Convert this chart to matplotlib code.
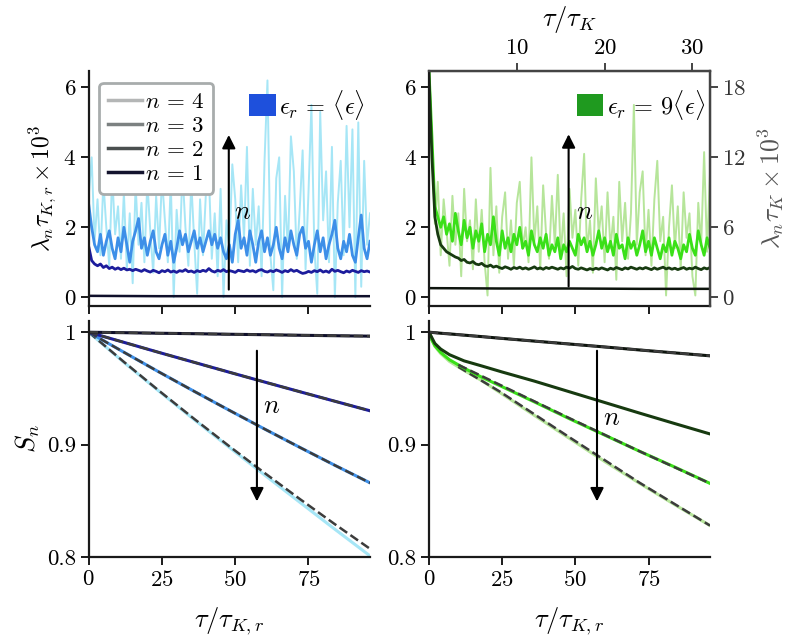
import matplotlib
matplotlib.use("Agg")
import matplotlib.pyplot as plt
from matplotlib.lines import Line2D
from matplotlib.patches import Patch

plt.rcParams['font.family'] = 'serif'
plt.rcParams['font.serif'] = ['cmr10', 'DejaVu Serif']
plt.rcParams['mathtext.fontset'] = 'cm'
plt.rcParams['axes.formatter.use_mathtext'] = True
plt.rcParams['axes.unicode_minus'] = False
plt.rcParams['font.size'] = 16.5

# ---- data: growth rates lambda_n * tau * 1e3 vs tau/tau_K,r (x = 0..96) ----
tau = list(range(97))

lam4_mean = [2.9, 4.0, 1.6, 2.8, 1.2, 3.3, 2.0, 0.9, 3.5, 1.8, 2.6, 1.1, 3.0, 0.8, 2.4, 0.4,
             3.2, 1.5, 2.7, 1.0, 3.3, 1.9, 0.7, 2.9, 1.4, 3.4, 2.2, 1.0, 3.3, 0.0, 2.5, 1.3,
             3.6, 2.0, 0.9, 3.3, 1.6, 0.1, 2.8, 1.2, 3.0, 3.5, 1.1, 2.4, 0.6, 3.1, 0.0, 2.2,
             1.4, 3.8, 2.8, 1.0, 3.2, 1.7, 4.3, 0.9, 3.1, 1.5, 2.6, 0.6, 3.9, 6.2, 1.2, 0.2,
             3.4, 4.0, 0.0, 2.9, 1.3, 4.6, 3.6, 1.1, 2.5, 4.2, 0.8, 3.0, 5.5, 1.4, 0.1, 5.3,
             2.2, 3.6, 1.0, 4.3, 0.0, 2.7, 3.9, 1.2, 4.9, 2.0, 4.8, 0.0, 5.0, 0.3, 3.9, 1.5, 2.4]
lam3_mean = [2.65, 2.0, 1.5, 1.3, 1.8, 1.2, 1.6, 1.9, 1.4, 1.1, 1.7, 1.3, 2.0, 1.5, 1.0, 1.6,
             1.9, 2.25, 1.4, 1.7, 1.2, 1.6, 1.9, 1.3, 1.1, 1.5, 1.8, 1.2, 1.6, 1.0, 1.4, 1.9,
             1.5, 1.8, 1.3, 1.6, 1.9, 1.4, 1.7, 1.3, 1.6, 1.9, 1.5, 1.8, 1.4, 1.7, 1.3, 1.1,
             1.5, 1.0, 1.8, 2.2, 1.4, 1.7, 1.2, 1.9, 1.5, 1.0, 1.6, 1.9, 1.3, 1.7, 1.2, 1.5,
             2.0, 1.4, 1.1, 1.7, 1.3, 1.9, 1.5, 1.2, 1.8, 2.0, 1.4, 1.6, 1.0, 1.5, 1.9, 1.3,
             1.7, 1.1, 1.5, 1.8, 2.2, 1.4, 1.1, 1.6, 1.3, 1.8, 1.2, 1.0, 1.7, 2.35, 1.4, 1.1, 1.6]
lam2_mean = [1.45, 1.05, 0.95, 0.9, 0.95, 0.85, 0.9, 0.82, 0.86, 0.8, 0.84, 0.79, 0.83, 0.78,
             0.8, 0.76, 0.8, 0.77, 0.74, 0.79, 0.75, 0.72, 0.77, 0.74, 0.7, 0.76, 0.73, 0.78,
             0.72, 0.75, 0.71, 0.76, 0.74, 0.79, 0.73, 0.75, 0.71, 0.76, 0.73, 0.77, 0.74, 0.82,
             0.75, 0.72, 0.77, 0.74, 0.79, 0.73, 0.76, 0.74, 0.71, 0.77, 0.75, 0.73, 0.78, 0.74,
             0.76, 0.72, 0.77, 0.79, 0.74, 0.72, 0.76, 0.73, 0.78, 0.75, 0.71, 0.76, 0.73, 0.79,
             0.74, 0.77, 0.72, 0.68, 0.7, 0.74, 0.71, 0.76, 0.73, 0.78, 0.72, 0.75, 0.71, 0.8,
             0.74, 0.77, 0.73, 0.7, 0.75, 0.72, 0.77, 0.74, 0.71, 0.76, 0.73, 0.75, 0.72]
tau_flat = [0, 24, 48, 72, 96]
lam1_mean = [0.04, 0.03, 0.03, 0.03, 0.03]

lam4_high = [6.5, 4.2, 2.1, 3.3, 1.2, 2.8, 1.9, 0.9, 2.9, 1.5, 2.4, 0.6, 3.1, 1.6, 2.2, 0.8,
             2.8, 1.3, 2.5, 1.0, 0.05, 3.7, 1.2, 2.6, 0.7, 2.3, 3.0, 1.1, 2.2, 0.9, 2.7, 3.3,
             1.4, 2.0, 1.0, 4.0, 1.6, 2.6, 0.8, 3.2, 1.8, 1.1, 2.9, 1.5, 3.5, 1.2, 2.4, 0.6,
             3.1, 1.7, 2.5, 0.9, 2.8, 4.1, 1.3, 2.2, 0.7, 3.4, 1.8, 2.6, 1.0, 3.0, 1.4, 2.3,
             0.5, 3.3, 1.6, 2.7, 1.1, 2.4, 5.5, 1.5, 3.0, 3.6, 1.2, 2.5, 0.9, 2.8, 3.9, 1.6,
             2.3, 0.05, 2.0, 3.2, 1.4, 2.6, 0.8, 3.0, 1.7, 2.4, 0.6, 0.05, 2.7, 1.5, 4.15, 1.3, 3.5]
lam3_high = [6.5, 4.6, 2.6, 2.3, 2.0, 2.3, 1.8, 2.1, 1.6, 2.4, 1.9, 1.5, 2.2, 1.7, 2.0, 1.4,
             1.9, 1.6, 2.1, 1.3, 1.8, 1.5, 2.3, 1.6, 1.2, 1.9, 1.4, 1.7, 1.3, 1.8, 1.5, 2.0,
             1.4, 1.6, 1.2, 1.9, 1.5, 1.3, 1.7, 1.4, 1.8, 1.2, 1.5, 1.3, 1.7, 1.1, 1.5, 1.3,
             1.6, 1.4, 1.2, 1.8, 1.5, 1.7, 1.3, 1.6, 1.2, 1.5, 1.9, 1.4, 1.7, 1.3, 1.6, 1.2,
             1.8, 1.4, 1.5, 1.1, 1.7, 1.4, 1.6, 1.2, 1.5, 1.9, 1.3, 1.6, 1.2, 1.7, 1.4, 1.1,
             1.5, 1.3, 1.7, 1.2, 1.6, 1.4, 1.1, 1.5, 1.3, 1.8, 1.4, 1.2, 1.9, 1.5, 1.2, 1.7, 1.4]
lam2_high = [6.4, 4.0, 2.3, 1.8, 1.5, 1.4, 1.3, 1.25, 1.2, 1.15, 1.12, 1.05, 1.08, 1.0, 0.98,
             1.02, 0.95, 0.93, 0.97, 0.9, 0.88, 0.92, 0.86, 0.89, 0.85, 0.82, 0.87, 0.84, 0.8,
             0.85, 0.82, 0.86, 0.81, 0.84, 0.8, 0.83, 0.87, 0.81, 0.84, 0.8, 0.85, 0.82, 0.86,
             0.83, 0.8, 0.84, 0.81, 0.86, 0.83, 0.88, 0.82, 0.8, 0.84, 0.81, 0.78, 0.82, 0.79,
             0.83, 0.8, 0.84, 0.81, 0.78, 0.83, 0.8, 0.85, 0.82, 0.79, 0.84, 0.81, 0.86, 0.83,
             0.8, 0.84, 0.81, 0.85, 0.82, 0.79, 0.84, 0.8, 0.83, 0.86, 0.81, 0.84, 0.8, 0.83,
             0.79, 0.82, 0.85, 0.8, 0.83, 0.81, 0.86, 0.82, 0.79, 0.84, 0.81, 0.85]
lam1_high = [0.26, 0.25, 0.25, 0.24, 0.24]

# ---- survival probabilities S_n ----
tau_s_left = [0, 12, 24, 36, 48, 60, 72, 84, 96]
s1_mean = [1.0, 0.9996, 0.9991, 0.9987, 0.9982, 0.9978, 0.9973, 0.9969, 0.9965]
s2_mean = [1.0, 0.9910, 0.9820, 0.9732, 0.9644, 0.9557, 0.9471, 0.9386, 0.9301]
s3_mean = [1.0, 0.9822, 0.9646, 0.9474, 0.9305, 0.9139, 0.8976, 0.8816, 0.8660]
s4_mean = [1.0, 0.9732, 0.9475, 0.9222, 0.8975, 0.8730, 0.8488, 0.8247, 0.8010]
fit4_mean = [1.0, 0.9736, 0.9479, 0.9229, 0.8985, 0.8748, 0.8517, 0.8292, 0.8073]

tau_s_right = [0, 1, 2, 4, 7, 12, 18, 25, 36, 48, 60, 72, 84, 96]
s1_high = [1.0, 0.9998, 0.9996, 0.9991, 0.9985, 0.9974, 0.9961, 0.9945, 0.9921, 0.9895,
           0.9869, 0.9842, 0.9816, 0.9790]
s2_high = [1.0, 0.995, 0.990, 0.985, 0.980, 0.9745, 0.970, 0.9646, 0.9565, 0.947, 0.9375,
           0.928, 0.9187, 0.9095]
s3_high = [1.0, 0.993, 0.988, 0.982, 0.9755, 0.968, 0.960, 0.9515, 0.938, 0.923, 0.9085,
           0.894, 0.880, 0.8655]
s4_high = [1.0, 0.993, 0.9875, 0.981, 0.974, 0.966, 0.957, 0.945, 0.926, 0.9055, 0.885,
           0.8655, 0.8465, 0.828]
tau_fit_right = [10, 24, 48, 72, 96]
fit3_high = [0.971, 0.9535, 0.9235, 0.894, 0.8655]
fit4_high = [0.9692, 0.9475, 0.9065, 0.866, 0.828]
tau_fit1 = [0, 48, 96]
fit1_high = [1.0, 0.9895, 0.979]

blues = ['#0f0f2a', '#1c1c9c', '#3d8fe8', '#a6e6f6']   # n = 1..4
greens = ['#0d140d', '#173a10', '#3ae018', '#b6e59a']
legend_grays = ['#14142e', '#4a4f4f', '#7c8181', '#b4b6b6']
fit_col = '#3c3c3c'
TICK = 16.5

fig = plt.figure(figsize=(7.93, 6.36), dpi=100)
ax_tl = fig.add_axes([0.1119, 0.5189, 0.3547, 0.3695])
ax_tr = fig.add_axes([0.5410, 0.5189, 0.3543, 0.3695])
ax_bl = fig.add_axes([0.1119, 0.1242, 0.3547, 0.3711])
ax_br = fig.add_axes([0.5410, 0.1242, 0.3543, 0.3711])


def style(ax):
    for s in ['left', 'bottom']:
        ax.spines[s].set_linewidth(1.6)
        ax.spines[s].set_color('#1a1a1a')
    ax.spines['top'].set_visible(False)
    ax.spines['right'].set_visible(False)
    ax.tick_params(direction='out', length=6, width=1.4, color='#1a1a1a', labelsize=TICK, pad=3)
    ax.set_xlim(0, 96)
    ax.set_xticks([0, 25, 50, 75])


# top panels
for ax, cols, l4, l3, l2, l1 in [(ax_tl, blues, lam4_mean, lam3_mean, lam2_mean, lam1_mean),
                                 (ax_tr, greens, lam4_high, lam3_high, lam2_high, lam1_high)]:
    style(ax)
    ax.plot(tau, l4, color=cols[3], lw=1.4)
    ax.plot(tau, l3, color=cols[2], lw=2.0)
    ax.plot(tau, l2, color=cols[1], lw=2.0)
    ax.plot(tau_flat, l1, color=cols[0], lw=1.8)
    ax.set_ylim(-0.25, 6.47)
    ax.set_yticks([0, 2, 4, 6])
    ax.set_xticklabels([])

ax_tl.set_ylabel(r'$\lambda_n\tau_{K,r}\times 10^3$', fontsize=17, labelpad=4)

ax_tl.annotate('', xy=(47.8, 4.72), xytext=(47.8, 0.14),
               arrowprops=dict(arrowstyle='-|>', color='k', lw=1.5, mutation_scale=20))
ax_tl.text(52.6, 2.43, r'$n$', fontsize=19, ha='center', va='center')
ax_tr.annotate('', xy=(47.7, 4.74), xytext=(47.7, 0.23),
               arrowprops=dict(arrowstyle='-|>', color='k', lw=1.5, mutation_scale=20))
ax_tr.text(53.2, 2.43, r'$n$', fontsize=19, ha='center', va='center')

handles = [Line2D([], [], color=legend_grays[3], lw=2.5),
           Line2D([], [], color=legend_grays[2], lw=2.5),
           Line2D([], [], color=legend_grays[1], lw=2.5),
           Line2D([], [], color=legend_grays[0], lw=2.5)]
leg = ax_tl.legend(handles, [r'$n\,=\,4$', r'$n\,=\,3$', r'$n\,=\,2$', r'$n\,=\,1$'],
                   loc='upper left', bbox_to_anchor=(0.037, 0.95), borderaxespad=0,
                   fontsize=16.5, handlelength=1.45, handletextpad=0.15, labelspacing=0.18,
                   borderpad=0.4, fancybox=True, framealpha=1, edgecolor='#a8acac')
leg.get_frame().set_linewidth(2.0)
ax_tl.add_artist(leg)

ax_tl.legend([Patch(facecolor='#1e50dc')], [r'$\epsilon_r\,=\,\langle\epsilon\rangle$'],
             loc='upper right', bbox_to_anchor=(1.0, 0.95), borderaxespad=0, frameon=False,
             fontsize=17.5, handlelength=1.1, handleheight=1.0, handletextpad=0.15, borderpad=0.2)
ax_tr.legend([Patch(facecolor='#1f9a1f')], [r'$\epsilon_r\,=\,9\langle\epsilon\rangle$'],
             loc='upper right', bbox_to_anchor=(1.0, 0.95), borderaxespad=0, frameon=False,
             fontsize=17.5, handlelength=1.1, handleheight=1.0, handletextpad=0.15, borderpad=0.2)

# twin axes on the high-dissipation panel
frame_gray = '#444444'
ax_tr.spines['top'].set_visible(True)
ax_tr.spines['right'].set_visible(True)
ax_r = ax_tr.twinx()
ax_r.set_ylim(-0.75, 19.41)
ax_r.set_yticks([0, 6, 12, 18])
ax_r.tick_params(direction='out', length=6, width=1.4, color=frame_gray, labelcolor='#333333',
                 labelsize=TICK, pad=3)
ax_r.set_ylabel(r'$\lambda_n\tau_K\times 10^3$', fontsize=18.5, color='#555555', labelpad=6)
ax_t = ax_tr.twiny()
ax_t.set_xlim(0, 32)
ax_t.set_xticks([10, 20, 30])
ax_t.tick_params(direction='out', length=6, width=1.4, color=frame_gray, labelsize=TICK, pad=3)
ax_t.set_xlabel(r'$\tau/\tau_K$', fontsize=19, labelpad=9)
for a in (ax_r, ax_t):
    for s in a.spines.values():
        s.set_linewidth(1.6)
        s.set_color(frame_gray)
    a.spines['left'].set_visible(False)
    a.spines['bottom'].set_visible(False)

# bottom panels
style(ax_bl)
style(ax_br)
for ax in (ax_bl, ax_br):
    ax.set_ylim(0.8, 1.01)
    ax.set_yticks([0.8, 0.9, 1.0])
    ax.set_yticklabels(['0.8', '0.9', '1'])
    ax.set_xlabel(r'$\tau/\tau_{K,r}$', fontsize=19, labelpad=12)

ax_bl.plot(tau_s_left, s4_mean, color=blues[3], lw=2.2)
ax_bl.plot(tau_s_left, fit4_mean, color=fit_col, lw=1.8, ls='--')
for s, c in [(s3_mean, blues[2]), (s2_mean, blues[1]), (s1_mean, blues[0])]:
    ax_bl.plot(tau_s_left, s, color=c, lw=2.2)
    ax_bl.plot(tau_s_left, s, color=fit_col, lw=1.8, ls='--')
ax_bl.set_ylabel(r'$S_n$', fontsize=19, labelpad=4)

ax_br.plot(tau_s_right, s4_high, color=greens[3], lw=2.2)
ax_br.plot(tau_fit_right, fit4_high, color=fit_col, lw=1.8, ls='--')
ax_br.plot(tau_s_right, s3_high, color=greens[2], lw=2.2)
ax_br.plot(tau_fit_right, fit3_high, color=fit_col, lw=1.8, ls='--')
ax_br.plot(tau_s_right, s2_high, color=greens[1], lw=2.2)
ax_br.plot(tau_s_right, s1_high, color=greens[0], lw=2.2)
ax_br.plot(tau_fit1, fit1_high, color=fit_col, lw=1.8, ls='--')

for ax, ny in [(ax_bl, 0.934), (ax_br, 0.924)]:
    ax.annotate('', xy=(57.4, 0.847), xytext=(57.4, 0.986),
                arrowprops=dict(arrowstyle='-|>', color='k', lw=1.5, mutation_scale=20))
    ax.text(62.5, ny, r'$n$', fontsize=19, ha='center', va='center')

fig.savefig('out.png', dpi=100)
